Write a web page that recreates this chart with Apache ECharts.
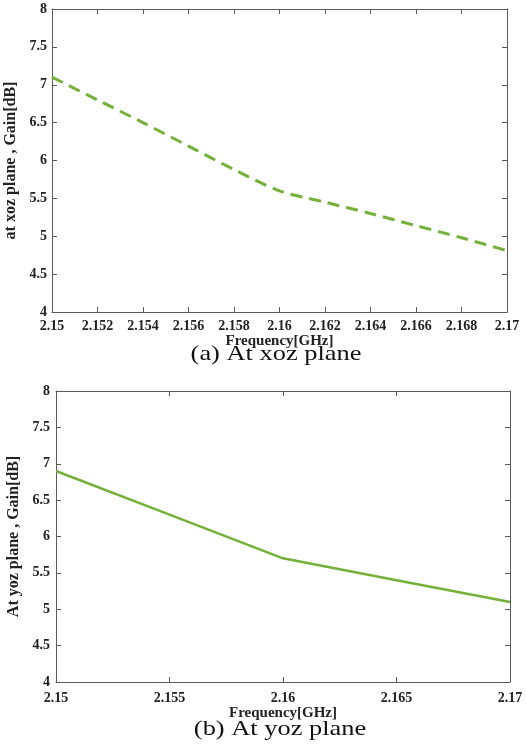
<!DOCTYPE html>
<html>
<head>
<meta charset="utf-8">
<script src="https://cdn.jsdelivr.net/npm/echarts@6/dist/echarts.min.js"></script>
<style>html,body{margin:0;padding:0;background:#fff;}#c{width:526px;height:750px;}</style>
</head>
<body>
<div id="c"></div>
<script>
// Data (a) xoz plane
const freqA = [2.15, 2.152, 2.154, 2.156, 2.158, 2.16, 2.162, 2.164, 2.166, 2.168, 2.17];
const gainA = [7.1, 6.80, 6.50, 6.19, 5.88, 5.60, 5.45, 5.30, 5.14, 4.98, 4.81];
// Data (b) yoz plane
const freqB = [2.15, 2.155, 2.16, 2.165, 2.17];
const gainB = [6.9, 6.3, 5.7, 5.4, 5.1];
const yTitleA = 'at xoz plane , Gain[dB]';
const yTitleB = 'At yoz plane , Gain[dB]';
const xTitle = 'Frequency[GHz]';
const captionA = '(a) At xoz plane';
const captionB = '(b) At yoz plane';

const font = '"Liberation Serif", "Times New Roman", serif';
const axisColor = '#5a5a5a';
const lineColor = '#74b13a';

function mainX(grid, interval, nameGap, margin) {
  return {
    type: 'value', gridIndex: grid, position: 'bottom',
    min: 2.15, max: 2.17, interval: interval,
    name: xTitle, nameLocation: 'middle', nameGap: nameGap,
    nameTextStyle: {fontFamily: font, fontWeight: 'bold', fontSize: 15, color: '#222'},
    axisLine: {show: true, lineStyle: {color: axisColor, width: 1}},
    axisTick: {show: true, inside: true, length: 5, lineStyle: {color: axisColor}},
    axisLabel: {fontFamily: font, fontWeight: 'bold', fontSize: 14, color: '#222', margin: margin,
      showMinLabel: true, showMaxLabel: true, hideOverlap: false},
    splitLine: {show: false}
  };
}
function secX(grid, interval) {
  return {
    type: 'value', gridIndex: grid, position: 'top',
    min: 2.15, max: 2.17, interval: interval,
    axisLine: {show: true, onZero: false, lineStyle: {color: axisColor, width: 1}},
    axisTick: {show: true, inside: true, length: 5, lineStyle: {color: axisColor}},
    axisLabel: {show: false}, splitLine: {show: false}
  };
}
function mainY(grid, title, nameGap, margin) {
  return {
    type: 'value', gridIndex: grid, position: 'left',
    min: 4, max: 8, interval: 0.5,
    name: title, nameLocation: 'middle', nameGap: nameGap, nameRotate: 90,
    nameTextStyle: {fontFamily: font, fontWeight: 'bold', fontSize: 16, color: '#222'},
    axisLine: {show: true, onZero: false, lineStyle: {color: axisColor, width: 1}},
    axisTick: {show: true, inside: true, length: 5, lineStyle: {color: axisColor}},
    axisLabel: {fontFamily: font, fontWeight: 'bold', fontSize: 14, color: '#222', margin: margin},
    splitLine: {show: false}
  };
}
function secY(grid) {
  return {
    type: 'value', gridIndex: grid, position: 'right',
    min: 4, max: 8, interval: 0.5,
    axisLine: {show: true, onZero: false, lineStyle: {color: axisColor, width: 1}},
    axisTick: {show: true, inside: true, length: 5, lineStyle: {color: axisColor}},
    axisLabel: {show: false}, splitLine: {show: false}
  };
}

const chart = echarts.init(document.getElementById('c'), null, {renderer: 'canvas'});
chart.setOption({
  animation: false,
  backgroundColor: '#fff',
  grid: [
    {left: 52, right: 19, top: 9, height: 303, containLabel: false, outerBoundsMode: 'none'},
    {left: 56, right: 16, top: 391, height: 291, containLabel: false, outerBoundsMode: 'none'}
  ],
  xAxis: [mainX(0, 0.002, 15, 7), secX(0, 0.002), mainX(1, 0.005, 21, 9), secX(1, 0.005)],
  yAxis: [mainY(0, yTitleA, 27, 5), secY(0), mainY(1, yTitleB, 34, 6), secY(1)],
  series: [
    {type: 'line', xAxisIndex: 0, yAxisIndex: 0, data: freqA.map((f, i) => [f, gainA[i]]),
      smooth: 0.3, showSymbol: false,
      lineStyle: {color: lineColor, width: 3, type: [12, 7]}},
    {type: 'line', xAxisIndex: 2, yAxisIndex: 2, data: freqB.map((f, i) => [f, gainB[i]]),
      showSymbol: false,
      lineStyle: {color: lineColor, width: 2.5, type: 'solid'}}
  ],
  graphic: [
    {type: 'text', x: 276, y: 354, scaleX: 1.2, originX: 0, originY: 0,
      style: {text: captionA, font: '22px ' + font, fill: '#111', align: 'center', verticalAlign: 'middle'}},
    {type: 'text', x: 280, y: 729, scaleX: 1.2, originX: 0, originY: 0,
      style: {text: captionB, font: '22px ' + font, fill: '#111', align: 'center', verticalAlign: 'middle'}}
  ]
});
</script>
</body>
</html>
